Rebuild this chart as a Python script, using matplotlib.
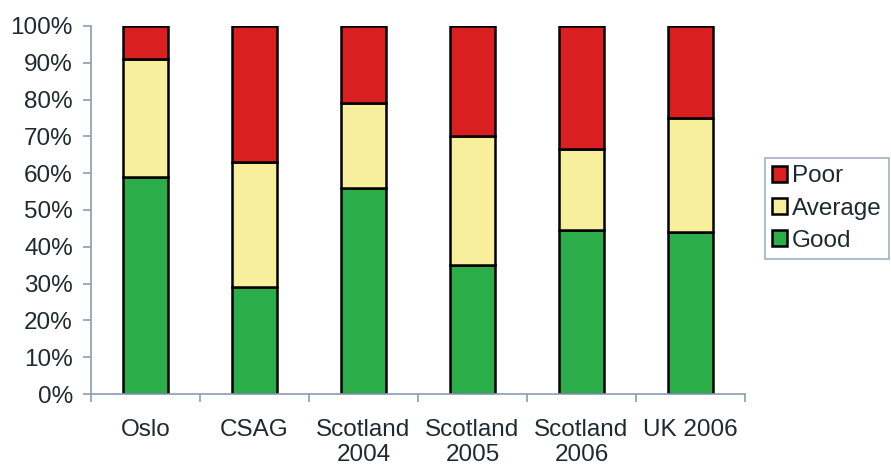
import matplotlib
matplotlib.use("Agg")
import matplotlib.pyplot as plt
import numpy as np

categories = ["Oslo", "CSAG", "Scotland\n2004", "Scotland\n2005", "Scotland\n2006", "UK 2006"]
good = [59, 29, 56, 35, 44.5, 44]
average = [32, 34, 23, 35, 22, 31]
poor = [9, 37, 21, 30, 33.5, 25]
yticks = [0, 10, 20, 30, 40, 50, 60, 70, 80, 90, 100]

plt.rcParams['font.family'] = ['Liberation Sans', 'DejaVu Sans']
axis_col = '#8a9cb3'
text_col = '#1f2a30'
c_good, c_avg, c_poor = '#2bad49', '#f8ef9d', '#da1f20'
fs = 17.5

fig = plt.figure(figsize=(8.91, 4.65), dpi=100)
ax = fig.add_axes([91/891, 1-394/465, (745-91)/891, (394-26)/465])

x = np.arange(len(categories))
w = 0.41
g = np.array(good); a = np.array(average); p = np.array(poor)
ax.bar(x, g, w, color=c_good, edgecolor='black', linewidth=1.8, label='Good')
ax.bar(x, a, w, bottom=g, color=c_avg, edgecolor='black', linewidth=1.8, label='Average')
ax.bar(x, p, w, bottom=g+a, color=c_poor, edgecolor='black', linewidth=1.8, label='Poor')

ax.set_xlim(-0.5, len(categories)-0.5)
ax.set_ylim(0, 100)
ax.set_yticks(yticks)
ax.set_yticklabels([f"{v}%" for v in yticks], fontsize=fs, color=text_col)
ax.set_xticks(x)
ax.set_xticklabels(categories, fontsize=fs, linespacing=1.15, color=text_col)
ax.set_xticks(np.arange(-0.5, len(categories), 1.0), minor=True)
ax.tick_params(axis='x', which='major', length=0, pad=18)
ax.tick_params(axis='x', which='minor', length=6, color=axis_col, width=1.2, direction='out')
ax.tick_params(axis='y', which='major', length=6, color=axis_col, width=1.2, direction='out', pad=7)
for s in ['top', 'right']:
    ax.spines[s].set_visible(False)
for s in ['left', 'bottom']:
    ax.spines[s].set_color(axis_col)
    ax.spines[s].set_linewidth(1.2)

handles, labels = ax.get_legend_handles_labels()
leg = fig.legend(handles[::-1], labels[::-1], loc='upper left',
                 bbox_to_anchor=(765/891, 1-158/465), fontsize=fs,
                 frameon=True, fancybox=False, edgecolor=axis_col,
                 handlelength=0.62, handleheight=0.62, handletextpad=0.2,
                 labelspacing=0.42, borderpad=0.3, borderaxespad=0)
leg.get_frame().set_linewidth(1.2)
for t in leg.get_texts():
    t.set_color(text_col)

fig.savefig("out.png", dpi=100)
